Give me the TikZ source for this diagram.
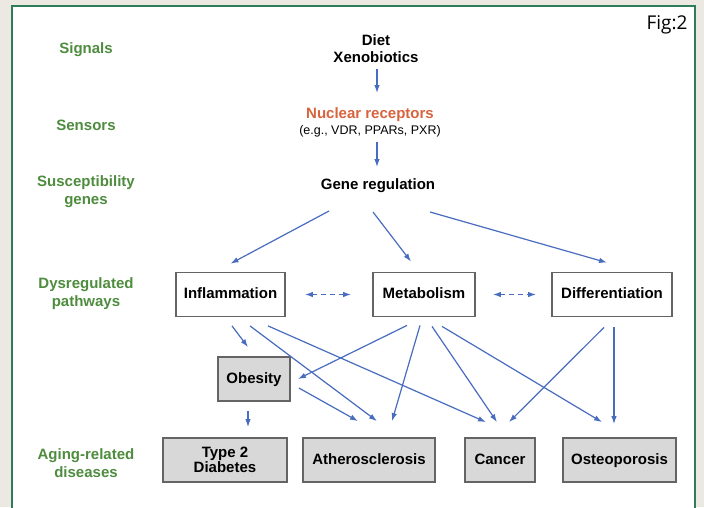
\documentclass[tikz,border=0pt]{standalone}
\usepackage{fontspec}
\setmainfont{Liberation Sans}
\newfontfamily\figfont{Open Sans}
\usetikzlibrary{arrows.meta}

\definecolor{nen}{RGB}{236,233,226}
\definecolor{vien}{RGB}{46,125,90}
\definecolor{xanhla}{RGB}{78,140,62}
\definecolor{cam}{RGB}{216,100,62}
\definecolor{xanh}{RGB}{72,108,190}
\definecolor{xam}{RGB}{216,216,216}
\definecolor{vienhop}{RGB}{100,100,100}

\tikzset{
  lvl/.style={text=xanhla, font=\fontsize{15}{18}\selectfont\bfseries, align=center},
  chu/.style={font=\fontsize{15}{17}\selectfont\bfseries, align=center},
  hop/.style={draw=vienhop, line width=1.8pt, fill=white, font=\fontsize{15}{15}\selectfont\bfseries,
              align=center, minimum height=44pt, inner sep=2pt},
  motdong/.style={text height=11pt, text depth=3pt},
  benh/.style={hop, fill=xam},
  mui/.style={-{Latex[length=8pt,width=5.5pt]}, draw=xanh, line width=1.2pt},
  haichieu/.style={{Latex[length=8pt,width=5.5pt]}-{Latex[length=8pt,width=5.5pt]},
                   draw=xanh, line width=1.2pt, dash pattern=on 5pt off 4pt},
}

\begin{document}
\begin{tikzpicture}[x=1pt, y=-1pt]
    % Khung nền
    \useasboundingbox (0,0) rectangle (704,507);
    \clip (0,0) rectangle (704,507);
    \fill[nen] (0,0) rectangle (704,507);
    \filldraw[fill=white, draw=vien, line width=2.5pt] (12,6) rectangle (695,530);
    \node[font=\figfont\fontsize{19}{20}\selectfont] (fig) at (667,25) {Fig:2};

    % Nhãn các mức bên trái
    \foreach \nm/\yy/\txt in {sig/50/Signals, sen/125/Sensors, sus/192/{Susceptibility\\genes},
                              dys/294/{Dysregulated\\pathways}, age/463/{Aging-related\\diseases}} {
        \node[lvl] (\nm) at (86,\yy) {\txt};
    }

    % Cột giữa
    \node[chu] (diet) at (376,48.5) {Diet\\Xenobiotics};
    \node[align=center, font=\fontsize{15}{16}\selectfont] (nr) at (370,122)
        {{\color{cam}\bfseries Nuclear receptors}\\{\fontsize{12.5}{14}\selectfont (e.g., VDR, PPARs, PXR)}};
    \node[chu] (gene) at (378,186) {Gene regulation};

    % Các con đường
    \node[hop, motdong, minimum width=109pt] (inf) at (230.5,294.5) {Inflammation};
    \node[hop, motdong, minimum width=102pt] (met) at (424,294.5) {Metabolism};
    \node[hop, motdong, minimum width=120pt] (dif) at (612,294.5) {Differentiation};

    % Các bệnh
    \node[benh, motdong, minimum width=72pt] (obe) at (254,379) {Obesity};
    \node[benh, minimum width=124pt] (t2d) at (225,460) {Type 2\\Diabetes};
    \node[benh, motdong, minimum width=132pt] (ath) at (369,460) {Atherosclerosis};
    \node[benh, motdong, minimum width=70pt] (can) at (500,460) {Cancer};
    \node[benh, motdong, minimum width=113pt] (ost) at (619.5,460) {Osteoporosis};

    % Mũi tên
    \draw[mui] ([shift={(1,20)}]diet.center) -- ([shift={(7,-29)}]nr.center);
    \draw[mui] ([shift={(7,20)}]nr.center) -- ([shift={(-1,-19)}]gene.center);
    \draw[mui] ([shift={(-49,25)}]gene.center) -- ([shift={(0,-8)}]inf.north);
    \draw[mui] ([shift={(-5,26)}]gene.center) -- ([shift={(-13,-10)}]met.north);
    \draw[mui] ([shift={(52,26)}]gene.center) -- ([shift={(-5,-9)}]dif.north);

    \draw[haichieu] ([shift={(19,0)}]inf.east) -- ([shift={(-21,0)}]met.west);
    \draw[haichieu] ([shift={(17,0)}]met.east) -- ([shift={(-15,0)}]dif.west);

    \draw[mui] ([shift={(1.5,8.5)}]inf.south) -- ([shift={(-6,-9)}]obe.north);
    \draw[mui] ([shift={(19.5,8.5)}]inf.south) -- ([shift={(8,-16)}]ath.north);
    \draw[mui] ([shift={(37.5,8.5)}]inf.south) -- ([shift={(-14,-15)}]can.north);

    \draw[mui] ([shift={(-17,8)}]met.south) -- ([shift={(7,0)}]obe.east);
    \draw[mui] ([shift={(-4,8)}]met.south) -- ([shift={(23,-16)}]ath.north);
    \draw[mui] ([shift={(8,9)}]met.south) -- ([shift={(-3,-15)}]can.north);
    \draw[mui] ([shift={(18,9)}]met.south) -- ([shift={(-17.5,-15)}]ost.north);

    \draw[mui] ([shift={(-8,10)}]dif.south) -- ([shift={(9,-15)}]can.north);
    \draw[mui] ([shift={(2,10)}]dif.south) -- ([shift={(-5.5,-13)}]ost.north);

    \draw[mui] ([shift={(8,9)}]obe.east) -- ([shift={(-11,-16)}]ath.north);
    \draw[mui] ([shift={(-6,9)}]obe.south) -- ([shift={(23,-10)}]t2d.north);
\end{tikzpicture}
\end{document}
